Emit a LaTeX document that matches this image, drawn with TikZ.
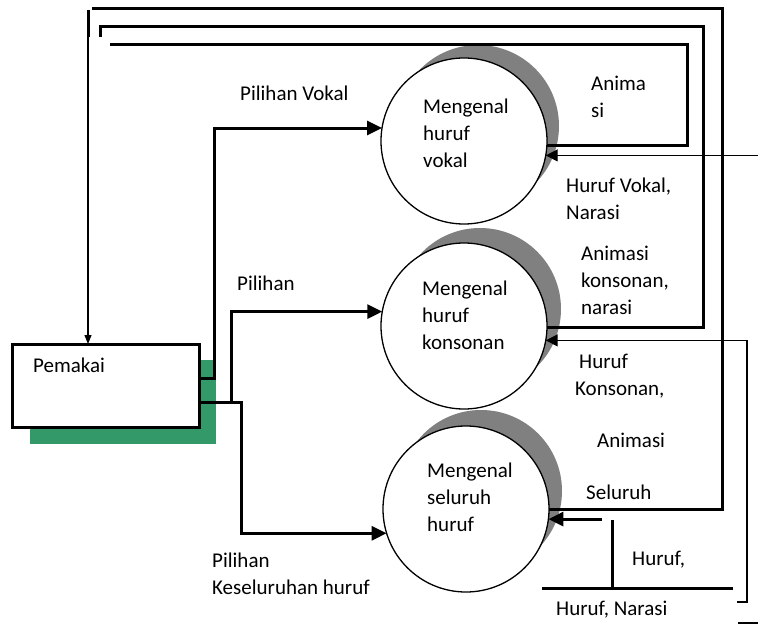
\documentclass[tikz,border=0pt]{standalone}
\usepackage{fontspec}
\setmainfont{Carlito}
\usetikzlibrary{arrows.meta}
\definecolor{boxgreen}{RGB}{52,153,104}
\definecolor{discgray}{RGB}{128,128,128}
\tikzstyle{process} = [circle, minimum size=166pt, inner sep=0pt, outer sep=0pt, draw=black, line width=1.3pt, fill=white]
\tikzstyle{discshadow} = [circle, minimum size=162pt, inner sep=0pt, fill=discgray]
\tikzstyle{entity} = [rectangle, minimum width=187pt, minimum height=83pt, inner sep=0pt, outer sep=0pt, draw=black, line width=3pt, fill=white]
\tikzstyle{flowline} = [line width=3pt]
\tikzstyle{arrow} = [line width=3pt, -{Triangle[length=15pt,width=14pt]}]
\tikzstyle{thinarrow} = [line width=1.3pt, -{Triangle[length=12pt,width=12pt]}]
\tikzstyle{flowtext} = [anchor=west, align=left, inner sep=0pt]

\begin{document}
\begin{tikzpicture}[x=1pt, y=-1pt, font=\fontsize{21}{27}\selectfont]
        \useasboundingbox (0,0) rectangle (758,631);

        % shadows
        \node [discshadow] at (478,126) {};
        \node [discshadow] at (480,309) {};
        \node [discshadow] at (481,491) {};
        \fill [boxgreen] (30,360) rectangle (216,444);

        % processes and entity
        \node (vokal) [process] at (464,141) {};
        \node (konsonan) [process] at (464,326) {};
        \node (seluruh) [process] at (466,509) {};
        \node (pemakai) [entity] at (105.5,385.5) {};

        \node (tvokal) [flowtext] at (423,133) {Mengenal\\huruf\\vokal};
        \node (tkonsonan) [flowtext] at (422,315) {Mengenal\\huruf\\konsonan};
        \node (tseluruh) [flowtext] at (427,497) {Mengenal\\seluruh\\huruf};
        \node (tpemakai) [flowtext] at (33,365) {Pemakai};

        % pilihan dari pemakai
        \draw [arrow] (pemakai.east |- 0,378) -- (214,378) -- (214,0 |- vokal.171) -- (vokal.171);
        \draw [arrow] (231,402) -- (231,0 |- konsonan.170) -- (konsonan.170);
        \draw [arrow] (pemakai.east |- 0,402) -- (241,402) -- (241,0 |- seluruh.197.5) -- (seluruh.197.5);

        % keluaran ke pemakai
        \draw [flowline] (vokal.-3) -- (687,0 |- vokal.-3) -- (687,45) -- (110,45);
        \draw [flowline] (konsonan.-1) -- (703,0 |- konsonan.-1) -- (703,27) -- (100,27) -- (100,37);
        \draw [flowline] (seluruh.0) -- (722,0 |- seluruh.0) -- (722,9) -- (92,9);
        \draw [flowline] (88,10) -- (88,37);
        \draw [line width=1.2pt, -{Triangle[length=9pt,width=7pt]}] (88,10) -- (88,0 |- pemakai.north);

        % masukan data
        \draw [thinarrow] (758,0 |- vokal.-10) -- (vokal.-10);
        \draw [thinarrow] (737,602) -- (747,602) -- (747,0 |- konsonan.-10) -- (konsonan.-10);
        \draw [arrow] (602,0 |- seluruh.-7.5) -- (seluruh.-7.5);
        \draw [flowline] (612,520) -- (612,588);
        \draw [flowline] (542,588) -- (733,588);
        \draw [line width=1.5pt] (738,623) -- (758,623);

        % labels
        \node (lvokal) [flowtext] at (240,93) {Pilihan Vokal};
        \node (lkonsonan) [flowtext] at (237,283) {Pilihan};
        \node (lseluruh) [flowtext] at (212,573.5) {Pilihan\\Keseluruhan huruf};
        \node (lanimasi) [flowtext] at (591,97) {Anima\\si};
        \node (lhvokal) [flowtext] at (566,199) {Huruf Vokal,\\Narasi};
        \node (lakonsonan) [flowtext] at (581,280) {Animasi\\konsonan,\\narasi};
        \node (lhkonsonan) [flowtext] at (575,376) {\hspace{4pt}Huruf\\Konsonan,};
        \node (laseluruh) [flowtext] at (597,440) {Animasi};
        \node (lsseluruh) [flowtext] at (586,492) {Seluruh};
        \node (lhuruf) [flowtext] at (632,560) {Huruf,};
        \node (lnarasi) [flowtext] at (556,610) {Huruf, Narasi};
    \end{tikzpicture}
\end{document}
